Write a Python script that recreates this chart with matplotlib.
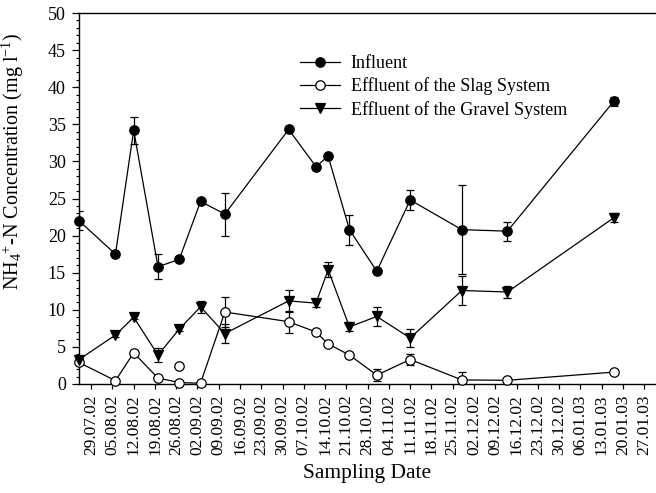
import datetime as dt
import numpy as np
import matplotlib
matplotlib.use("Agg")
import matplotlib.pyplot as plt
import matplotlib.dates as mdates
import matplotlib.transforms as mtransforms
from matplotlib.ticker import MultipleLocator

plt.rcParams['font.family'] = ['Liberation Serif', 'DejaVu Serif']
plt.rcParams['mathtext.fontset'] = 'custom'
plt.rcParams['mathtext.rm'] = 'Liberation Serif'
plt.rcParams['mathtext.it'] = 'Liberation Serif:italic'

# sampling dates
dates = ["2002-07-25", "2002-08-06", "2002-08-12", "2002-08-20", "2002-08-27",
         "2002-09-03", "2002-09-11", "2002-10-02", "2002-10-11", "2002-10-15",
         "2002-10-22", "2002-10-31", "2002-11-11", "2002-11-28", "2002-12-13",
         "2003-01-17"]

influent = [22.0, 17.5, 34.2, 15.8, 16.8, 24.6, 22.9, 34.3, 29.3, 30.7,
            20.8, 15.2, 24.8, 20.8, 20.6, 38.1]
influent_err = [1.3, 0.3, 1.8, 1.7, 0, 0.4, 2.9, 0.2, 0, 0,
                2.0, 0, 1.3, 6.0, 1.3, 0.6]

slag = [2.9, 0.45, 4.2, 0.8, 0.2, 0.1, 9.7, 8.4, 7.0, 5.4,
        3.9, 1.2, 3.3, 0.55, 0.5, 1.6]
slag_err = [0, 0, 0, 0, 0, 0, 2.0, 1.5, 0, 0,
            0, 0.8, 0.8, 1.0, 0, 0]

gravel = [3.3, 6.6, 9.0, 3.9, 7.4, 10.4, 6.8, 11.2, 10.9, 15.4,
          7.7, 9.1, 6.2, 12.6, 12.4, 22.4]
gravel_err = [0.4, 0.3, 0.3, 1.0, 0.3, 0.8, 1.3, 1.5, 0.5, 1.0,
              0.6, 1.3, 1.2, 2.0, 0.8, 0.6]

# stray open circle not joined to the line
extra_date = ["2002-08-27"]
extra_slag = [2.4]

tick_dates = ["2002-07-29", "2002-08-05", "2002-08-12", "2002-08-19", "2002-08-26",
              "2002-09-02", "2002-09-09", "2002-09-16", "2002-09-23", "2002-09-30",
              "2002-10-07", "2002-10-14", "2002-10-21", "2002-10-28", "2002-11-04",
              "2002-11-11", "2002-11-18", "2002-11-25", "2002-12-02", "2002-12-09",
              "2002-12-16", "2002-12-23", "2002-12-30", "2003-01-06", "2003-01-13",
              "2003-01-20", "2003-01-27"]


def to_num(ds):
    return mdates.date2num([dt.datetime.strptime(d, "%Y-%m-%d") for d in ds])


x = to_num(dates)
xt = to_num(tick_dates)

fig = plt.figure(figsize=(6.56, 4.93), dpi=100)
ax = fig.add_axes([79 / 656, 1 - 384 / 493, 1 - 79 / 656, (384 - 13) / 493])

series = [
    (influent, influent_err, "o", "black", "Influent"),
    (slag, slag_err, "o", "white", "Effluent of the Slag System"),
    (gravel, gravel_err, "v", "black", "Effluent of the Gravel System"),
]
for vals, err, mk, face, label in series:
    vals = np.array(vals)
    err = np.array(err)
    m = err > 0
    ax.errorbar(x[m], vals[m], yerr=err[m], fmt="none", ecolor="black",
                elinewidth=0.9, capsize=3.2, capthick=0.9, zorder=2)
    ax.plot(x, vals, color="black", lw=0.9, marker=mk, markersize=6.8,
            markerfacecolor=face, markeredgecolor="black", markeredgewidth=0.9,
            label=label, zorder=3, clip_on=False)

ax.plot(to_num(extra_date), extra_slag, linestyle="none", marker="o", markersize=6.8,
        markerfacecolor="white", markeredgecolor="black", markeredgewidth=0.9, zorder=3)

ax.set_xlim(to_num(["2002-07-25"])[0], to_num(["2003-01-31"])[0] - 0.1)
ax.set_ylim(0, 50)
ax.set_xticks(xt)
ax.set_xticklabels([dt.datetime.strptime(d, "%Y-%m-%d").strftime("%d.%m.%y") for d in tick_dates],
                   rotation=90, fontsize=12.5)
# labels in the original sit a little right of their ticks
n = len(tick_dates)
for i, lab in enumerate(ax.get_xticklabels()):
    shift = (11 - 8 * i / (n - 1)) / 100
    lab.set_transform(lab.get_transform() +
                      mtransforms.ScaledTranslation(shift, 0, fig.dpi_scale_trans))

ax.yaxis.set_major_locator(MultipleLocator(5))
ax.yaxis.set_minor_locator(MultipleLocator(1))
ax.tick_params(axis="y", which="major", direction="out", length=5, width=0.9,
               labelsize=13, pad=4.5)
ax.tick_params(axis="y", which="minor", direction="out", length=2.5, width=0.8)
ax.tick_params(axis="x", which="major", direction="out", length=3.6, width=0.9, pad=4)

ax.spines["right"].set_visible(False)
for s in ["left", "top", "bottom"]:
    ax.spines[s].set_linewidth(1.0)

ax.set_ylabel(r"NH$_4{}^{+}$-N Concentration (mg l$^{\mathrm{-1}}$)", fontsize=14.5, labelpad=5)
ax.yaxis.set_label_coords(-0.092, 0.6)
ax.set_xlabel("Sampling Date", fontsize=15.5, labelpad=6)

ax.legend(loc="upper left", bbox_to_anchor=(300 / 656, 1 - 55 / 493),
          bbox_transform=fig.transFigure, frameon=False, fontsize=13,
          borderpad=0, borderaxespad=0, handlelength=2.2, handletextpad=0.6,
          labelspacing=0.3)

fig.savefig("out.png", dpi=100)
